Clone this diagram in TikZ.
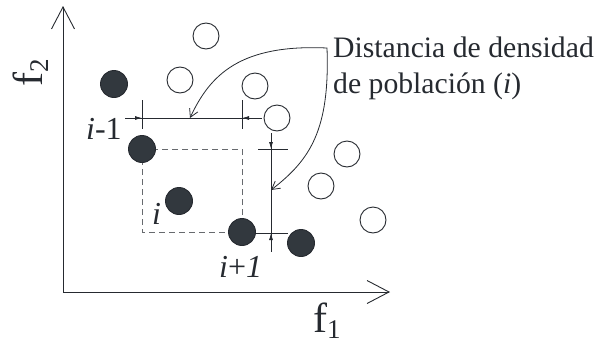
\documentclass[tikz,border=0pt]{standalone}
\usepackage{fontspec}
\setmainfont{Liberation Serif}
\usetikzlibrary{arrows.meta}
\definecolor{ink}{RGB}{38,42,48}
\definecolor{dotc}{RGB}{50,56,62}
\begin{document}
\begin{tikzpicture}[x=1pt,y=-1pt,
 open/.style={circle,draw=ink,line width=0.9pt,minimum size=26pt,inner sep=0pt},
 filled/.style={circle,draw=ink,fill=dotc,line width=0.9pt,minimum size=27pt,inner sep=0pt},
 lbl/.style={text=ink,font=\fontsize{29.7}{36}\selectfont,inner sep=0pt,anchor=base west},
 ilbl/.style={text=ink,font=\fontsize{32}{36}\selectfont,inner sep=0pt,anchor=base west},
 axis/.style={draw=ink,line width=0.9pt,-{Straight Barb[length=22pt,width=23pt]}},
 dim/.style={draw=ink,line width=0.8pt},
 dimtip/.style={draw=ink,line width=0.8pt,-{Latex[length=7pt,width=4pt]}},
 dashbox/.style={draw=ink!70,line width=0.9pt,dash pattern=on 6pt off 4pt},
 callout/.style={draw=ink,line width=0.8pt,{Straight Barb[length=8pt,width=9pt]}-{Straight Barb[length=8pt,width=9pt]}},
]
\useasboundingbox (0,0) rectangle (597,343);
% axes
\coordinate (O) at (63,292);
\coordinate (Ytop) at (63,6);
\coordinate (Xend) at (390,292);
\draw[axis] (O) -- (Ytop);
\draw[axis] (O) -- (Xend);
\node[text=ink,rotate=90,inner sep=0pt] (f2) at (31,73) {\fontsize{42}{42}\selectfont f\raisebox{-6pt}{\fontsize{27}{27}\selectfont 2}};
\node[text=ink,inner sep=0pt,anchor=base west] (f1) at (313,332) {\fontsize{42}{42}\selectfont f\raisebox{-6pt}{\fontsize{27}{27}\selectfont 1}};
% dashed box
\coordinate (b1) at (142,149);
\coordinate (b2) at (242,232);
\draw[dashbox] (b1) rectangle (b2);
% open circles
\node[open] (o1) at (206,36) {};
\node[open] (o2) at (180,80) {};
\node[open] (o3) at (255,86) {};
\node[open] (o4) at (277,118) {};
\node[open] (o5) at (347,154) {};
\node[open] (o6) at (321,186) {};
\node[open] (o7) at (373,220) {};
% filled circles
\node[filled] (p0) at (114,84) {};
\node[filled] (pm) at (142,149) {};
\node[filled] (pi) at (179,201) {};
\node[filled] (pp) at (242,232) {};
\node[filled] (pq) at (301,243) {};
% horizontal dimension
\coordinate (h1) at (125,118);
\coordinate (h2) at (262,118);
\draw[dim] (h1) -- (h2);
\coordinate (ta1) at (142,100); \coordinate (ta2) at (142,129);
\coordinate (tb1) at (242,100); \coordinate (tb2) at (242,129);
\draw[dim] (ta1) -- (ta2);
\draw[dim] (tb1) -- (tb2);
\coordinate (ha) at (132,118); \coordinate (hb) at (142,118);
\coordinate (hc) at (252,118); \coordinate (hd) at (242,118);
\draw[dimtip] (ha) -- (hb);
\draw[dimtip] (hc) -- (hd);
% vertical dimension
\coordinate (v1) at (271,133);
\coordinate (v2) at (271,252);
\draw[dim] (v1) -- (v2);
\coordinate (tc1) at (258,149); \coordinate (tc2) at (288,149);
\coordinate (td1) at (256,233); \coordinate (td2) at (288,233);
\draw[dim] (tc1) -- (tc2);
\draw[dim] (td1) -- (td2);
\coordinate (va) at (271,139); \coordinate (vb) at (271,149);
\coordinate (vc) at (271,243); \coordinate (vd) at (271,233);
\draw[dimtip] (va) -- (vb);
\draw[dimtip] (vc) -- (vd);
% callout
\coordinate (cl) at (190,118);
\coordinate (c0) at (327,48);
\coordinate (cr) at (271,190);
\draw[callout] (cl) .. controls (210,75) and (240,44) .. (c0) .. controls (330,130) and (310,160) .. (cr);
% labels
\node[lbl] (t1) at (333,57) {Distancia de densidad};
\node[lbl] (t2) at (333,93) {de población (\textit{i})};
\node[ilbl] (lm) at (86,139) {\textit{i}-1};
\node[ilbl] (li) at (152,224) {\textit{i}};
\node[ilbl] (lp) at (219,277) {\textit{i}+\textit{1}};
\end{tikzpicture}
\end{document}
